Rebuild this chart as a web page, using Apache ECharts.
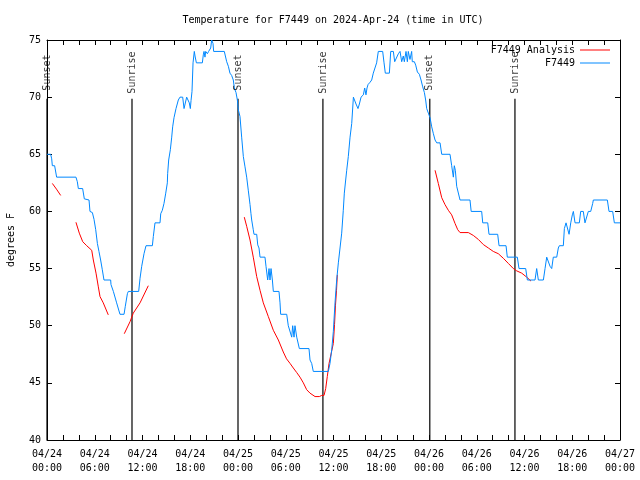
<!DOCTYPE html>
<html><head><meta charset="utf-8">
<script src="https://cdn.jsdelivr.net/npm/echarts@6/dist/echarts.min.js"></script>
<style>html,body{margin:0;padding:0;background:#fff}#c{width:640px;height:480px}</style>
</head><body><div id="c"></div>
<script>
// ---- data (hours since 2024-04-24 00:00 UTC, degrees F) ----
const xTickLabels = ['04/24\n00:00','04/24\n06:00','04/24\n12:00','04/24\n18:00','04/25\n00:00','04/25\n06:00','04/25\n12:00','04/25\n18:00','04/26\n00:00','04/26\n06:00','04/26\n12:00','04/26\n18:00','04/27\n00:00'];
const yTickValues = [40,45,50,55,60,65,70,75];
const eventHours = [0, 10.68, 24.0, 34.67, 48.1, 58.8];
const eventNames = ['Sunset','Sunrise','Sunset','Sunrise','Sunset','Sunrise'];

const analysisSeg1 = [[0.67,62.45],[1.19,61.95],[1.72,61.4]];
const analysisSeg2 = [[3.64,59.05],[4.06,58.1],[4.49,57.35],[4.99,57.0],[5.62,56.6],[5.82,55.75],[6.16,54.6],[6.45,53.4],[6.66,52.55],[7.07,52.0],[7.70,50.95]];
const analysisSeg3 = [[9.71,49.3],[10.43,50.35],[10.84,51.1],[11.69,52.0],[12.73,53.5]];
const analysisSeg4 = [[24.79,59.5],[25.09,58.7],[25.51,57.5],[25.92,56.0],[26.35,54.3],[26.77,53.1],[27.18,52.0],[27.81,50.8],[28.44,49.6],[29.07,48.75],[29.69,47.7],[30.1,47.1],[30.54,46.7],[30.95,46.3],[31.38,45.9],[31.79,45.5],[32.21,45.0],[32.63,44.4],[33.05,44.1],[33.68,43.8],[34.22,43.8],[34.52,43.9],[34.81,43.9],[35.02,44.5],[35.22,45.55],[35.44,46.7],[35.78,47.8],[35.98,48.45],[36.13,50.1],[36.25,51.8],[36.38,53.1],[36.48,54.45]];
const analysisSeg5 = [[48.76,63.6],[49.17,62.45],[49.6,61.2],[50.01,60.6],[50.43,60.1],[50.85,59.7],[51.27,58.95],[51.61,58.4],[51.9,58.15],[52.94,58.15],[53.57,57.9],[54.2,57.55],[54.83,57.1],[55.46,56.8],[56.08,56.5],[56.71,56.3],[57.34,55.9],[57.97,55.45],[58.6,55.0],[59.02,54.8],[59.65,54.6],[60.28,54.25],[60.82,53.9]];

const f7449 = [[0,65],[0.46,65],[0.59,64.6],[0.67,64],[0.96,64],[1.21,63],[3.64,63],[3.81,62.6],[3.94,62],[4.48,62],[4.69,61.1],[5.28,61],[5.40,60],[5.70,59.9],[5.91,59.3],[6.12,58.4],[6.33,57.2],[6.53,56.5],[6.74,55.75],[6.95,54.9],[7.16,54],[8.0,54],[8.04,53.6],[8.34,53],[8.75,52],[8.96,51.9],[9.17,51],[9.68,51],[9.84,51.7],[10.1,52.8],[10.22,53],[11.52,53],[11.69,54.15],[11.9,55.2],[12.19,56.3],[12.44,57],[13.24,57],[13.36,57.8],[13.57,59],[14.2,59],[14.29,59.8],[14.49,60.1],[14.7,60.7],[14.92,61.6],[15.12,62.5],
[15.16,63.3],[15.29,64.5],[15.5,65.4],[15.67,66.5],[15.79,67.4],[15.96,68.2],[16.21,69],[16.5,69.75],[16.71,70],[17.05,70],[17.22,69],[17.47,69],[17.55,70],[17.76,70],[17.88,69.5],[18.01,69],[18.1,69.7],[18.22,70.5],[18.35,73],[18.51,74],[18.6,73.6],[18.77,73],[19.52,73],[19.64,73.7],[19.73,74],[19.85,73.5],[19.94,74],[20.15,73.8],[20.31,74],[20.57,74.3],[20.69,75],[20.86,74.7],[20.94,74],[22.28,74],[22.41,73.9],[22.58,73.1],[22.79,72.7],[22.99,72.1],[23.2,71.9],[23.41,71.5],[23.54,70.8],[23.75,70.4],[23.92,69.75],[24.04,68.9],[24.25,68.3],[24.46,66.5],[24.67,64.8],[24.88,63.9],[25.09,63],[25.3,61.8],[25.51,60.6],[25.63,59.8],[25.72,59.25],[25.92,58.4],[26.01,58],[26.35,58],[26.48,57.07],[26.64,56.8],[26.77,56],[27.39,56],[27.52,55.2],[27.73,54],[27.9,55],[28.02,54],[28.15,55],[28.32,54],[28.44,53],[29.15,53],[29.28,52],[29.36,51],[30.12,51],[30.32,50],[30.54,50],[30.75,49],[30.87,50],[31.04,49],[31.16,50],[31.38,49],[31.58,49],[31.71,48],[32.92,48],[33.05,47],[33.26,46.7],[33.46,46],[35.35,46],[35.56,46.7],[35.78,47.9],[35.98,49.5],[36.19,52],[36.4,54],[36.61,55.5],[36.82,56.8],[37.03,58.1],[37.23,60.1],[37.36,61.6],[37.53,62.75],[37.66,63.6],[37.86,64.8],[38.08,66.5],[38.29,67.7],[38.5,70],[38.7,70],[38.83,69.4],[39.08,69],[39.25,69.4],[39.46,70],[39.75,70.2],[39.92,70.8],[40.08,70.2],[40.21,70.8],[40.34,71.1],[40.59,71.3],[40.8,71.5],[41.0,72.1],[41.22,72.2],[41.42,73],[41.63,74],[42.18,74],[42.35,73],[42.51,72.1],[43.02,72.1],[43.19,74],[43.52,74],[43.69,73.1],[43.94,73.1],[44.15,73.8],[44.36,74],[44.57,73.1],[44.77,73.6],[44.9,73.1],[45.11,74],[45.28,73.1],[45.4,74],[45.61,73.3],[45.82,74],[45.9,73.1],[46.16,73.1],[46.33,72.8],[46.54,72.2],[46.79,72],[47.0,71.5],[47.21,70.9],[47.42,70.4],[47.58,69.75],[47.71,69],[47.92,68.6],[48.13,68.2],[48.34,67.4],[48.55,66.8],[48.76,66.25],[48.97,66],[49.39,66],[49.6,65],[50.64,65],[50.85,64],[51.06,63],[51.18,64],[51.31,63.6],[51.48,62.2],[51.69,62.1],[51.9,61],[53.15,61],[53.3,60],[54.62,60],[54.75,59],[55.38,59],[55.54,58],[56.63,58],[56.8,57],[57.68,57],[57.84,56],[59.1,56],[59.31,55],[60.15,55],[60.36,54],[61.32,54],[61.53,55],[61.74,54],[62.37,54],[62.58,55],[62.79,56],[62.99,56],[63.21,55.2],[63.42,55],[63.62,56],[64.05,56],[64.25,56.8],[64.38,57],[64.88,57],[65.01,58.5],[65.22,59],[65.43,59],[65.6,58],[65.81,59],[66.01,59.7],[66.14,60],[66.35,59],[66.89,59],[67.06,60],[67.39,60],[67.6,59],[67.82,59],[68.02,60],[68.32,60],[68.57,60.7],[68.65,61],[70.41,61],[70.62,60],[71.08,60],[71.29,59],[72.0,59]];

// ---- chart ----
const FONT = 'DejaVu Sans Mono';
const RED = '#ff0000', BLUE = '#0088ff';
const EVENT_LINE_TOP = 69.85;   // where the sunrise/sunset rules end (degrees F scale)
const EVENT_LABEL_Y = 72.15;    // label centre

const chart = echarts.init(document.getElementById('c'), null, {renderer: 'canvas'});

const series = [];
eventHours.forEach((h, i) => {
  series.push({type: 'line', data: [[h, 40], [h, EVENT_LINE_TOP]], symbol: 'none', silent: true,
    lineStyle: {color: '#000', width: 1.2}, z: 1, animation: false});
});
series.push({type: 'scatter', silent: true, z: 5, animation: false,
  data: eventHours.map((h, i) => [h, EVENT_LABEL_Y, eventNames[i]]),
  symbolSize: 1, itemStyle: {color: 'rgba(0,0,0,0)'},
  label: {show: true, position: 'inside', rotate: 90, formatter: p => p.data[2],
    fontFamily: FONT, fontSize: 10, color: '#000'}});
[analysisSeg1, analysisSeg2, analysisSeg3, analysisSeg4, analysisSeg5].forEach(seg => {
  series.push({name: 'F7449 Analysis', type: 'line', data: seg, symbol: 'none', z: 3,
    lineStyle: {color: RED, width: 1}, itemStyle: {color: RED}, animation: false});
});
series.push({name: 'F7449', type: 'line', data: f7449, symbol: 'none', z: 4,
  lineStyle: {color: BLUE, width: 1}, itemStyle: {color: BLUE}, animation: false});

const axisCommon = {
  axisLine: {show: true, onZero: false, lineStyle: {color: '#000', width: 1}},
  axisTick: {show: true, inside: true, length: 5, lineStyle: {color: '#000'}},
  splitLine: {show: false}
};

chart.setOption({
  backgroundColor: '#fff',
  animation: false,
  grid: {left: 47, right: 20, top: 40, bottom: 40, containLabel: false},
  legend: {
    data: [{name: 'F7449 Analysis', icon: 'rect'}, {name: 'F7449', icon: 'rect'}],
    orient: 'vertical', right: 30, top: 44, padding: 0,
    align: 'right', itemWidth: 30, itemHeight: 1, itemGap: 1,
    textStyle: {fontFamily: FONT, fontSize: 10, color: '#000', lineHeight: 12}
  },
  xAxis: [
    Object.assign({type: 'value', min: 0, max: 72, interval: 6, position: 'bottom',
      minorTick: {show: true, splitNumber: 3, length: 5, lineStyle: {color: '#000'}},
      axisLabel: {formatter: v => xTickLabels[Math.round(v / 6)], fontFamily: FONT, fontSize: 10,
        color: '#000', lineHeight: 14, margin: 7}}, axisCommon),
    Object.assign({type: 'value', min: 0, max: 72, interval: 6, position: 'top',
      minorTick: {show: true, splitNumber: 3, length: 5, lineStyle: {color: '#000'}},
      axisLabel: {show: false}}, axisCommon)
  ],
  yAxis: [
    Object.assign({type: 'value', min: yTickValues[0], max: yTickValues[yTickValues.length - 1], interval: 5, position: 'left',
      axisLabel: {fontFamily: FONT, fontSize: 10, color: '#000', margin: 6}}, axisCommon),
    Object.assign({type: 'value', min: yTickValues[0], max: yTickValues[yTickValues.length - 1], interval: 5, position: 'right',
      axisLabel: {show: false}}, axisCommon)
  ],
  graphic: [
    {type: 'text', x: 333, y: 20, style: {text: 'Temperature for F7449 on 2024-Apr-24 (time in UTC)',
      font: '10px "DejaVu Sans Mono"', fill: '#000', textAlign: 'center', textVerticalAlign: 'middle'}},
    {type: 'text', x: 11, y: 240, rotation: Math.PI / 2, style: {text: 'degrees F',
      font: '10px "DejaVu Sans Mono"', fill: '#000', textAlign: 'center', textVerticalAlign: 'middle'}}
  ],
  series: series
});
</script>
</body></html>
